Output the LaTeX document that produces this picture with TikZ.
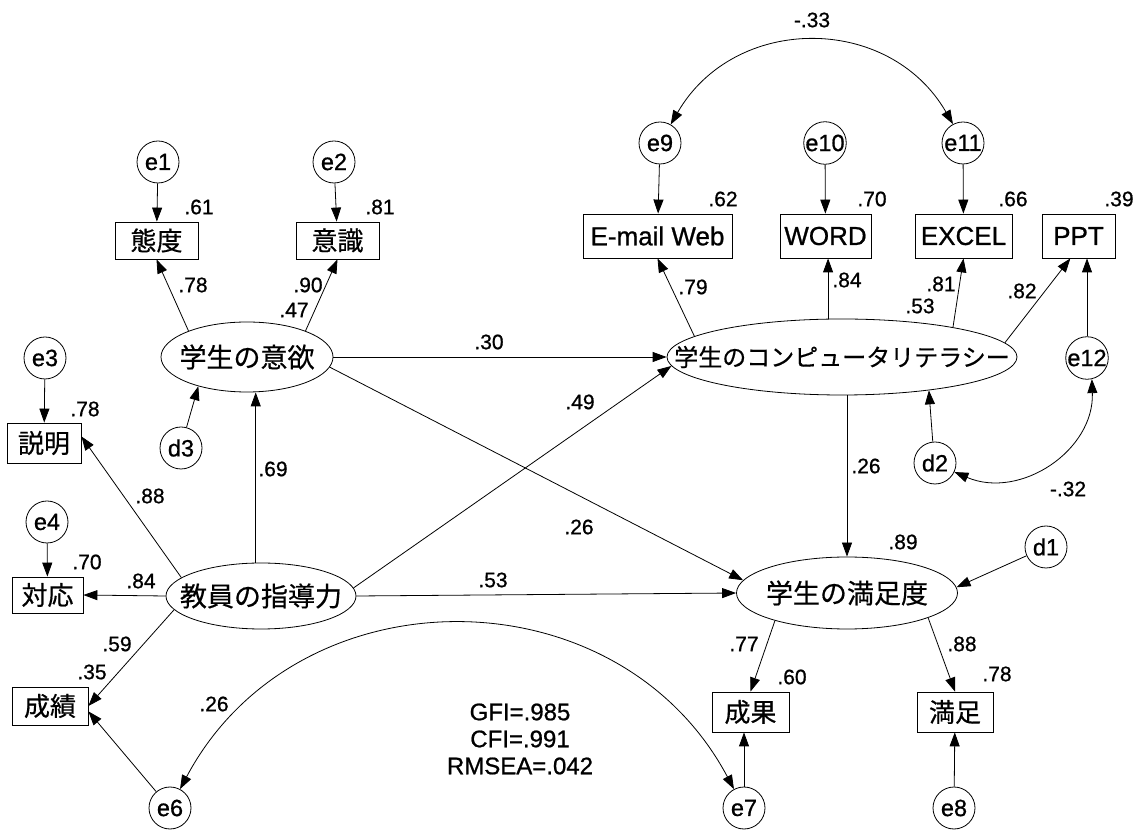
\documentclass[tikz,border=0pt]{standalone}
\usepackage{fontspec}
\setmainfont{Liberation Sans}[FakeBold=0.8]
\newfontfamily\jp{Noto Sans CJK JP}[FakeBold=0.5]
\usetikzlibrary{arrows.meta,shapes.geometric}
\tikzset{
  tip/.tip={Triangle[length=14pt,width=10pt]},
  arr/.style={draw, line width=0.8pt, -tip},
  darr/.style={draw, line width=0.8pt, tip-tip},
  errc/.style={circle, draw, line width=0.8pt, minimum size=42pt, inner sep=0pt, font=\fontsize{23.5}{26}\selectfont},
  obsj/.style={rectangle, draw, line width=0.8pt, inner sep=0pt, minimum height=40pt, font=\jp\fontsize{26}{30}\selectfont},
  obsl/.style={rectangle, draw, line width=0.8pt, inner sep=0pt, minimum height=44pt, font=\fontsize{26}{30}\selectfont},
  lat/.style={ellipse, draw, line width=0.8pt, inner sep=0pt},
  latt/.style={inner sep=0pt, font=\jp\fontsize{27}{32}\selectfont},
  lbl/.style={inner sep=0pt, font=\fontsize{21}{24}\selectfont},
  fit/.style={inner sep=0pt, font=\fontsize{24}{27}\selectfont, align=center},
}
\begin{document}
\begin{tikzpicture}[x=1pt,y=1pt]
\path[fill=white] (0,0) rectangle (1143,830);
\useasboundingbox (0,0) rectangle (1143,830);

% left latent: student motivation
\node[errc] (e1) at (158,668) {e1};
\node[errc] (e2) at (334,668) {e2};
\node[obsj, minimum width=83pt, minimum height=37pt] (taido) at (156.5,589.5) {態度};
\node[obsj, minimum width=83pt, minimum height=37pt] (ishiki) at (337.5,589.5) {意識};
\node[lat, minimum width=172pt, minimum height=70pt] (motiv) at (247,473) {};
\node[latt] (motivT) at (motiv) {学生の意欲};
\node[errc] (d3) at (181,382) {d3};

% teacher guidance
\node[errc] (e3) at (45,472) {e3};
\node[obsj, minimum width=74pt] (setsumei) at (44,387) {説明};
\node[errc] (e4) at (47,308) {e4};
\node[obsj, minimum width=71pt, minimum height=36pt] (taiou) at (47.5,235) {対応};
\node[lat, minimum width=190pt, minimum height=66pt] (teach) at (261,234) {};
\node[latt] (teachT) at (teach) {教員の指導力};
\node[obsj, minimum width=76pt, minimum height=38pt] (seiseki) at (50,124) {成績};
\node[errc] (e6) at (170,22) {e6};

% computer literacy
\node[errc] (e9) at (660,687) {e9};
\node[errc] (e10) at (825,687) {e10};
\node[errc] (e11) at (963,687) {e11};
\node[obsl, minimum width=149pt] (email) at (657.5,594) {E-mail Web};
\node[obsl, minimum width=91pt] (word) at (825.5,594) {WORD};
\node[obsl, minimum width=97pt] (excel) at (963.5,594) {EXCEL};
\node[obsl, minimum width=73pt] (ppt) at (1078.5,594) {PPT};
\node[lat, minimum width=350pt, minimum height=76pt] (comp) at (842,473) {};
\node[inner sep=0pt, font=\jp\fontsize{24}{28}\selectfont] (compT) at (comp) {学生のコンピュータリテラシー};
\node[errc] (e12) at (1087,472) {e12};
\node[errc] (d2) at (935,367) {d2};

% satisfaction
\node[lat, minimum width=221pt, minimum height=72pt] (sat) at (847,237) {};
\node[latt] (satT) at (sat) {学生の満足度};
\node[errc] (d1) at (1046,283) {d1};
\node[obsj, minimum width=77pt] (seika) at (750.5,118) {成果};
\node[obsj, minimum width=76pt] (manzoku) at (955,118) {満足};
\node[errc] (e7) at (744,22) {e7};
\node[errc] (e8) at (954,22) {e8};

% fit indices
\node[fit] (fitT) at (520,91) {GFI=.985\\CFI=.991\\RMSEA=.042};

% connectors
\draw[arr] (e1) -- (taido);
\draw[arr] (e2) -- (ishiki);
\draw[arr] (motiv.156) -- (taido.south);
\draw[arr] (motiv.24) -- (ishiki.south);
\draw[arr] (teach.99) -- (teach.99 |- motiv.south);
\draw[arr] (d3.75) -- (motiv.211);
\draw[arr] (e3) -- (setsumei);
\draw[arr] (teach.167) -- (setsumei.10);
\draw[arr] (e4) -- (taiou);
\draw[arr] (teach.west) -- (taiou.east);
\draw[arr] (teach.189) -- (seiseki.east);
\draw[arr] (e6) -- (seiseki.-8);
\draw[darr] (e6) to[out=62,in=118,looseness=1.15] (e7);
\draw[arr] (motiv.east) -- (comp.west);
\draw[arr] (teach.5) -- (comp.183);
\draw[arr] (motiv.-7) -- (sat.173);
\draw[arr] (teach.east) -- (sat.west);
\draw[arr] (comp.172.6) -- (email.south);
\draw[arr] (comp.110) -- (comp.110 |- word.south);
\draw[arr] (comp.15) -- (excel.south);
\draw[arr] (comp.5) -- (ppt.-110);
\draw[arr] (e12) -- (e12 |- ppt.south);
\draw[arr] (d2.96) -- (comp.-21);
\draw[arr] (comp.south -| sat.north) -- (sat.north);
\draw[darr] (d2.-25) to[out=-23,in=-88,looseness=1.1] (e12.-77);
\draw[arr] (d1) -- (sat.3);
\draw[arr] (sat.201) -- (seika.north);
\draw[arr] (sat.-17) -- (manzoku.north);
\draw[arr] (e7.north) -- (e7.north |- seika.south);
\draw[arr] (e8) -- (manzoku);
\draw[arr] (e9) -- (email);
\draw[arr] (e10) -- (word);
\draw[arr] (e11) -- (excel);
\draw[darr] (e9.60) to[out=60,in=120,looseness=1.16] (e11.118);

% coefficient labels
\node[lbl] (l61) at (199,623) {.61};
\node[lbl] (l81) at (380,623) {.81};
\node[lbl] (l78a) at (193,545) {.78};
\node[lbl] (l90) at (308,545) {.90};
\node[lbl] (l47) at (294,520) {.47};
\node[lbl] (l78b) at (85,421) {.78};
\node[lbl] (l69) at (273,361) {.69};
\node[lbl] (l88a) at (150,334) {.88};
\node[lbl] (l70a) at (87,268) {.70};
\node[lbl] (l84a) at (141,249) {.84};
\node[lbl] (l59) at (117,186) {.59};
\node[lbl] (l35) at (92,158) {.35};
\node[lbl] (l26a) at (214,126) {.26};
\node[lbl] (l30) at (489,488) {.30};
\node[lbl] (l49) at (580,428) {.49};
\node[lbl] (l26b) at (579,303) {.26};
\node[lbl] (l53a) at (493,250) {.53};
\node[lbl] (l33) at (812,810) {-.33};
\node[lbl] (l62) at (723,631) {.62};
\node[lbl] (l70b) at (872,631) {.70};
\node[lbl] (l66) at (1013,631) {.66};
\node[lbl] (l39) at (1119,631) {.39};
\node[lbl] (l79) at (693,543) {.79};
\node[lbl] (l84b) at (847,550) {.84};
\node[lbl] (l81b) at (941,546) {.81};
\node[lbl] (l53b) at (920,524) {.53};
\node[lbl] (l82) at (1022,539) {.82};
\node[lbl] (l26c) at (866,364) {.26};
\node[lbl] (l32) at (1068,341) {-.32};
\node[lbl] (l89) at (903,288) {.89};
\node[lbl] (l77) at (744,186) {.77};
\node[lbl] (l60) at (792,153) {.60};
\node[lbl] (l88b) at (962,186) {.88};
\node[lbl] (l78c) at (997,156) {.78};
\end{tikzpicture}
\end{document}
